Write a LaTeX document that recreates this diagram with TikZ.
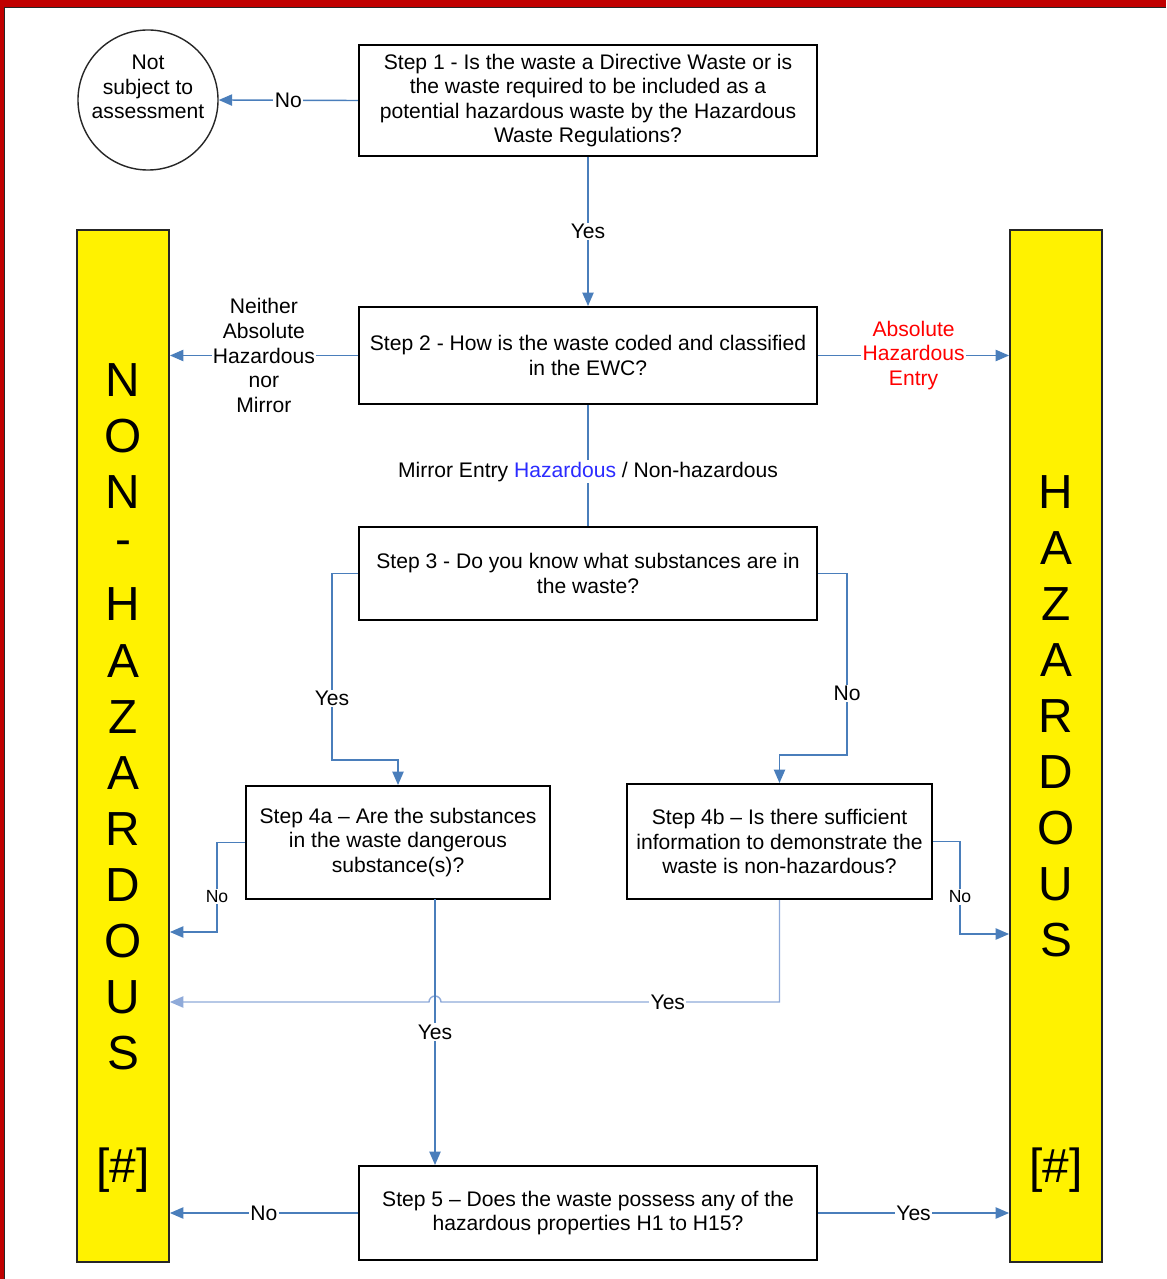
\documentclass[tikz,border=0pt]{standalone}
\usepackage{fontspec}
\setmainfont{Liberation Sans}
\usetikzlibrary{arrows.meta}

\definecolor{framered}{HTML}{C00000}
\definecolor{flowblue}{HTML}{4A7EBB}
\definecolor{flowlight}{HTML}{8FAAD9}
\definecolor{hazblue}{HTML}{2B2BFF}

\tikzset{
    txt/.style={font=\fontsize{15}{17.5}\selectfont, align=center},
    stepbox/.style={txt, draw=black, line width=1.4pt, fill=white, inner sep=0pt},
    flow/.style={draw=flowblue, line width=1pt, -{Triangle[length=9.5pt,width=8pt]}},
    lbl/.style={txt, text=black, fill=white, inner sep=1pt},
    smalllbl/.style={lbl, font=\fontsize{12.5}{15}\selectfont},
    bar/.style={draw=black!85, line width=1.3pt, fill=yellow, inner sep=0pt, minimum width=2.3cm, minimum height=25.8cm},
    bigch/.style={font=\fontsize{34}{40}\selectfont, inner sep=0pt}
}

\begin{document}
\begin{tikzpicture}[x=0.025cm, y=-0.025cm]
    \useasboundingbox (0,0) rectangle (1166,1279);

    % Frame of the page
    \fill[framered] (0,0) rectangle (1166,7);
    \fill[framered] (0,0) rectangle (4,1279);
    \draw[black!85, line width=1pt] (4.5,1279) -- (4.5,7.5) -- (1166,7.5);

    % Side bars
    \node[bar] (nonhaz) at (123,746) {};
    \node[bar] (haz) at (1056,746) {};
    \foreach \ch [count=\i] in {N,O,N,-,H,A,Z,A,R,D,O,U,S}
        \node[bigch] (nl\i) at (123,{324+56.1*\i}) {\ch};
    \foreach \ch [count=\i] in {H,A,Z,A,R,D,O,U,S}
        \node[bigch] (hl\i) at (1056,{436+56*\i}) {\ch};
    \node[bigch] (nlref) at (123,1170) {[\#]};
    \node[bigch] (hlref) at (1056,1170) {[\#]};

    % Out of scope
    \node[circle, draw=black!85, line width=1pt, minimum size=3.5cm, inner sep=0pt] (nsa) at (148,100) {};
    \node[txt] (nsatxt) at (148,87) {Not\\subject to\\assessment};

    % Steps
    \node[stepbox, minimum width=11.45cm, minimum height=2.775cm] (s1) at (588,100.5)
        {Step 1 - Is the waste a Directive Waste or is\\the waste required to be included as a\\potential hazardous waste by the Hazardous\\Waste Regulations?};
    \node[stepbox, minimum width=11.45cm, minimum height=2.425cm] (s2) at (588,355.5)
        {Step 2 - How is the waste coded and classified\\in the EWC?};
    \node[stepbox, minimum width=11.45cm, minimum height=2.325cm] (s3) at (588,573.5)
        {Step 3 - Do you know what substances are in\\the waste?};
    \node[stepbox, minimum width=7.6cm, minimum height=2.825cm] (s4a) at (398,842.5)
        {Step 4a -- Are the substances\\in the waste dangerous\\substance(s)?};
    \node[stepbox, minimum width=7.625cm, minimum height=2.875cm] (s4b) at (779.5,841.5)
        {Step 4b -- Is there sufficient\\information to demonstrate the\\waste is non-hazardous?};
    \node[stepbox, minimum width=11.45cm, minimum height=2.35cm] (s5) at (588,1213)
        {Step 5 -- Does the waste possess any of the\\hazardous properties H1 to H15?};

    % Bends of the connectors
    \coordinate (y3a) at (332,573.5);
    \coordinate (y3b) at (332,760);
    \coordinate (y3c) at (398,760);
    \coordinate (n3a) at (847,573.5);
    \coordinate (n3b) at (847,755);
    \coordinate (n3c) at (779.5,755);
    \coordinate (n4a) at (217,842.5);
    \coordinate (n4aend) at (217,932);
    \coordinate (n4b) at (960,841.5);
    \coordinate (n4bend) at (960,934);
    \coordinate (y4a) at (435,899);
    \coordinate (y4b) at (779.5,1002);
    \coordinate (hop) at (441,1002);

    % Connectors
    \draw[flow] (s1.west) -- node[lbl] {No} (nsa.east);
    \draw[flow] (s1.south) -- node[lbl] {Yes} (s2.north);
    \draw[flow] (s2.west) -- node[lbl] {Neither\\Absolute\\Hazardous\\nor\\Mirror} (nonhaz.east |- s2.west);
    \draw[flow] (s2.east) -- node[lbl, text=red] {Absolute\\Hazardous\\Entry} (haz.west |- s2.east);
    \draw[draw=flowblue, line width=1pt] (s2.south) -- node[lbl, pos=0.55]
        {Mirror Entry \textcolor{hazblue}{Hazardous} / Non-hazardous} (s3.north);
    \draw[flow] (s3.west) -- (y3a) -- node[lbl, pos=0.67] {Yes} (y3b) -- (y3c) -- (s4a.north);
    \draw[flow] (s3.east) -- (n3a) -- node[lbl, pos=0.66] {No} (n3b) -- (n3c) -- (s4b.north);
    \draw[flow] (s4a.west) -- (n4a) -- node[smalllbl, pos=0.6] {No} (n4aend) -- (nonhaz.east |- n4aend);
    \draw[flow] (s4b.east) -- (n4b) -- node[smalllbl, pos=0.6] {No} (n4bend) -- (haz.west |- n4bend);
    \draw[flow, draw=flowlight] (s4b.south) -- (y4b) -- node[lbl, pos=0.33] {Yes} (hop)
        arc[start angle=0, end angle=-180, radius=6] -- (nonhaz.east |- y4b);
    \draw[flow] (y4a) -- node[lbl, pos=0.5] {Yes} (y4a |- s5.north);
    \draw[flow] (s5.west) -- node[lbl] {No} (nonhaz.east |- s5.west);
    \draw[flow] (s5.east) -- node[lbl] {Yes} (haz.west |- s5.east);
\end{tikzpicture}
\end{document}
